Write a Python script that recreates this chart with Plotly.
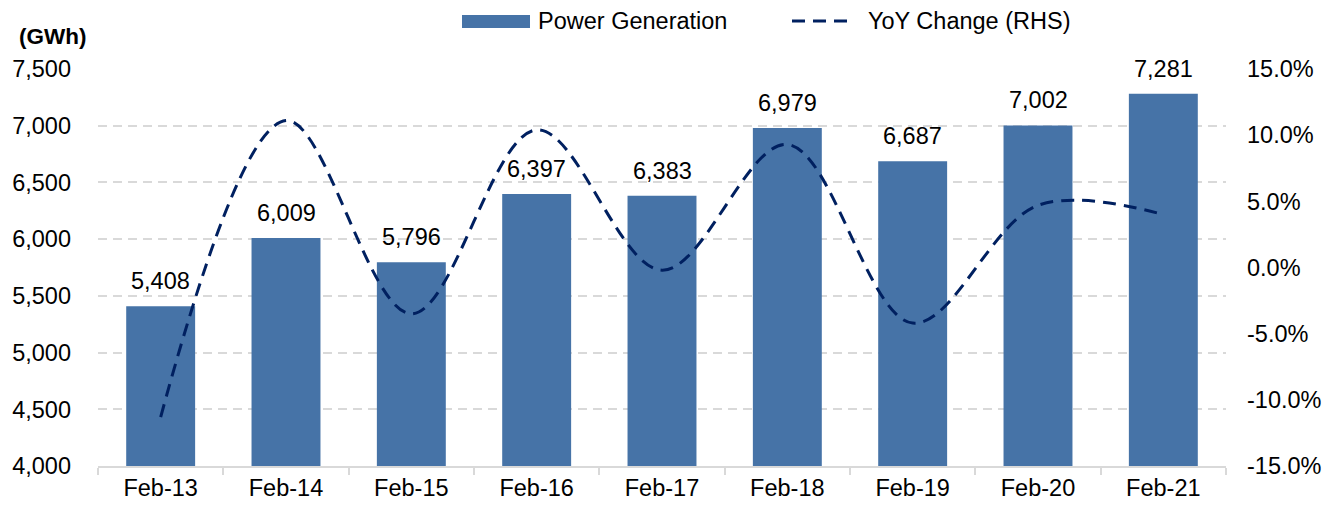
import plotly.graph_objects as go

categories = ["Feb-13", "Feb-14", "Feb-15", "Feb-16", "Feb-17", "Feb-18", "Feb-19", "Feb-20", "Feb-21"]
generation = [5408, 6009, 5796, 6397, 6383, 6979, 6687, 7002, 7281]
yoy = [-0.113, 0.111, -0.035, 0.104, -0.002, 0.093, -0.042, 0.047, 0.040]
left_ticks = [4000, 4500, 5000, 5500, 6000, 6500, 7000, 7500]
right_ticks = [-0.15, -0.10, -0.05, 0.0, 0.05, 0.10, 0.15]

FONT = "Liberation Sans, Arial, sans-serif"
BAR_COLOR = "#4673A7"
LINE_COLOR = "#002060"
GRID = "#D9D9D9"
FS = 23.5

W, H = 1324, 505
L, R, T, B = 98, 98, 69, 39
PW, PH = W - L - R, H - T - B


def px(x):
    return (x - L) / PW


def py(y):
    return (H - B - y) / PH


fig = go.Figure()
fig.add_trace(go.Bar(
    x=categories, y=generation, name="Power Generation",
    marker=dict(color=BAR_COLOR, line=dict(width=0)),
    width=0.55, showlegend=False,
))
fig.add_trace(go.Scatter(
    x=categories, y=yoy, name="YoY Change (RHS)", yaxis="y2", showlegend=False,
    mode="lines", line=dict(color=LINE_COLOR, width=3, dash="13px,8px", shape="spline", smoothing=1.0),
))

annotations = [
    dict(x=c, y=v, xref="x", yref="y", text=f"{v:,}", showarrow=False, yanchor="bottom",
         yshift=10, font=dict(size=FS, color="#000000", family=FONT))
    for c, v in zip(categories, generation)
]
annotations.append(dict(text="<b>(GWh)</b>", x=px(17), xref="paper", xanchor="left", y=py(37),
                        yref="paper", yanchor="middle", showarrow=False, font=dict(size=FS - 1)))
annotations.append(dict(text="Power Generation", x=px(536), xref="paper", xanchor="left", y=py(21),
                        yref="paper", yanchor="middle", showarrow=False, font=dict(size=FS)))
annotations.append(dict(text="YoY Change (RHS)", x=px(866), xref="paper", xanchor="left", y=py(21),
                        yref="paper", yanchor="middle", showarrow=False, font=dict(size=FS)))

shapes = [
    dict(type="rect", xref="paper", yref="paper", x0=px(462), x1=px(530), y0=py(28), y1=py(15),
         fillcolor=BAR_COLOR, line=dict(width=0)),
    dict(type="line", xref="paper", yref="paper", x0=px(792), x1=px(849), y0=py(21), y1=py(21),
         line=dict(color=LINE_COLOR, width=3, dash="13px,8px")),
]

fig.update_layout(
    width=W, height=H,
    margin=dict(l=L, r=R, t=T, b=B),
    paper_bgcolor="white", plot_bgcolor="white",
    font=dict(family=FONT, size=FS, color="#000000"),
    showlegend=False,
    xaxis=dict(showgrid=False, showline=True, linecolor=GRID, linewidth=2, automargin=False,
               ticks="outside", tickson="boundaries", ticklen=7, tickcolor=GRID, tickwidth=2,
               tickfont=dict(size=FS)),
    yaxis=dict(range=[4000, 7500], tickvals=left_ticks, ticktext=[f"{v:,}" for v in left_ticks],
               showgrid=True, automargin=False,
               gridcolor=GRID, griddash="9px,6px", gridwidth=1.5, zeroline=False,
               showline=False, ticks="", ticklabelstandoff=26, tickfont=dict(size=FS)),
    yaxis2=dict(range=[-0.15, 0.15], tickvals=right_ticks,
                ticktext=[f"{v * 100:.1f}%" for v in right_ticks],
                overlaying="y", side="right", automargin=False,
                showgrid=False, zeroline=False, showline=False, ticks="", ticklabelstandoff=20,
                tickfont=dict(size=FS)),
    annotations=annotations,
    shapes=shapes,
)

fig.write_html("out.html", config={"displayModeBar": False},
               post_script="document.body.style.margin='0';document.body.style.padding='0';")
